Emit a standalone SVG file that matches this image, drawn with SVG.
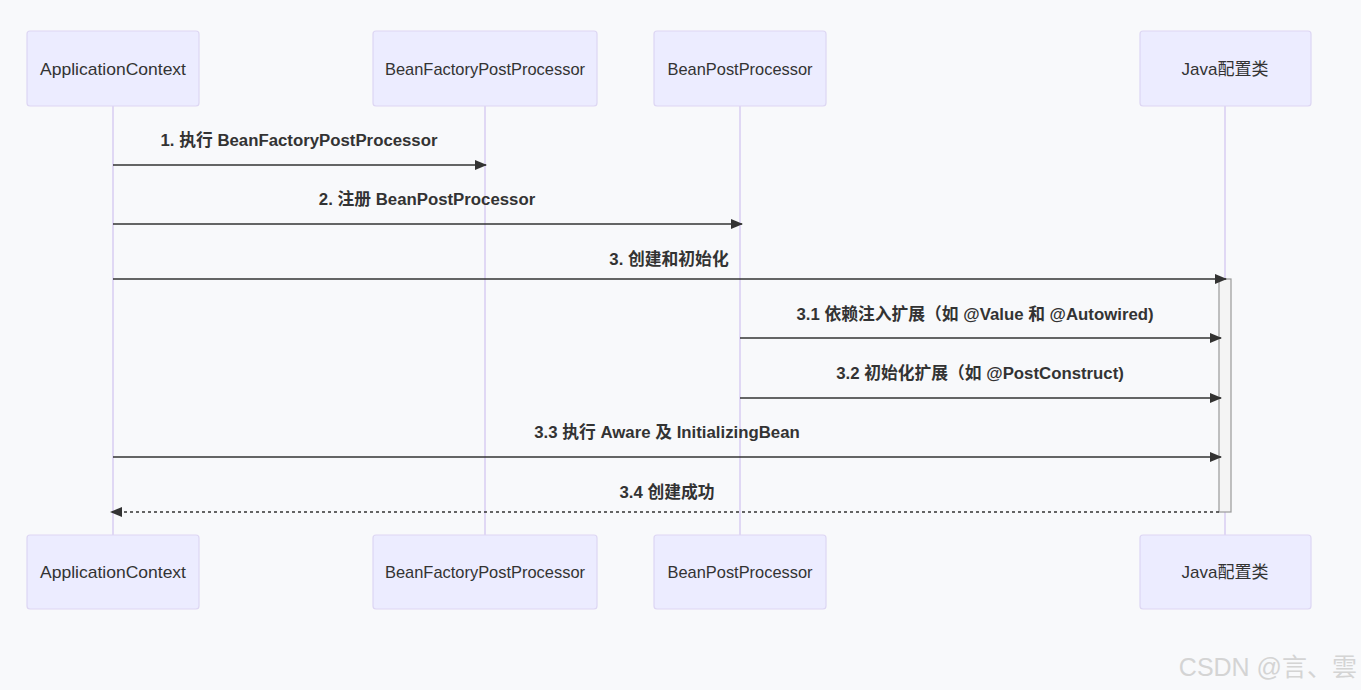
<svg xmlns="http://www.w3.org/2000/svg" width="1361" height="690" viewBox="0 0 1361 690">
<defs>
<style>
.actor{fill:#ececff;stroke:#ddd6f3;stroke-width:1.2}
.atext{font-family:"Liberation Sans","Noto Sans CJK SC",sans-serif;font-size:17px;fill:#333;text-anchor:middle;dominant-baseline:central}
.life{stroke:#d9ccf2;stroke-width:1.5}
.msg{stroke:#333;stroke-width:1.5;fill:none}
.dash{stroke-dasharray:3,3}
.mtext{font-family:"Liberation Sans","Noto Sans CJK SC",sans-serif;font-size:16.8px;font-weight:bold;fill:#333;text-anchor:middle}
.act{fill:#f4f4f4;stroke:#999;stroke-width:1.2}
</style>
<marker id="arrow" viewBox="0 0 12 12" refX="11" refY="6" markerWidth="12" markerHeight="12" markerUnits="userSpaceOnUse" orient="auto">
<path d="M0,1 L12,6 L0,11 z" fill="#333"/>
</marker>
</defs>
<rect width="1361" height="690" fill="#f8f9fb"/>
<g id="lifelines">
<line class="life" x1="113" y1="106" x2="113" y2="535"/>
<line class="life" x1="485" y1="106" x2="485" y2="535"/>
<line class="life" x1="740" y1="106" x2="740" y2="535"/>
<line class="life" x1="1225" y1="106" x2="1225" y2="535"/>
</g>
<g id="activation">
<rect class="act" x="1219" y="279" width="12" height="233"/>
</g>
<g id="node-appctx-top"><rect class="actor" x="27" y="31" width="172" height="75" rx="3"/><text class="atext" x="113" y="69" textLength="146" lengthAdjust="spacingAndGlyphs">ApplicationContext</text></g>
<g id="node-bfpp-top"><rect class="actor" x="373" y="31" width="224" height="75" rx="3"/><text class="atext" x="485" y="69" textLength="200" lengthAdjust="spacingAndGlyphs">BeanFactoryPostProcessor</text></g>
<g id="node-bpp-top"><rect class="actor" x="654" y="31" width="172" height="75" rx="3"/><text class="atext" x="740" y="69" textLength="145" lengthAdjust="spacingAndGlyphs">BeanPostProcessor</text></g>
<g id="node-java-top"><rect class="actor" x="1140" y="31" width="171" height="75" rx="3"/><text class="atext" x="1225" y="69">Java配置类</text></g>
<g id="node-appctx-bottom"><rect class="actor" x="27" y="535" width="172" height="74" rx="3"/><text class="atext" x="113" y="572" textLength="146" lengthAdjust="spacingAndGlyphs">ApplicationContext</text></g>
<g id="node-bfpp-bottom"><rect class="actor" x="373" y="535" width="224" height="74" rx="3"/><text class="atext" x="485" y="572" textLength="200" lengthAdjust="spacingAndGlyphs">BeanFactoryPostProcessor</text></g>
<g id="node-bpp-bottom"><rect class="actor" x="654" y="535" width="172" height="74" rx="3"/><text class="atext" x="740" y="572" textLength="145" lengthAdjust="spacingAndGlyphs">BeanPostProcessor</text></g>
<g id="node-java-bottom"><rect class="actor" x="1140" y="535" width="171" height="74" rx="3"/><text class="atext" x="1225" y="572">Java配置类</text></g>
<g id="connectors">
<line class="msg" x1="113" y1="165" x2="486" y2="165" marker-end="url(#arrow)"/>
<text class="mtext" x="299" y="146">1. 执行 BeanFactoryPostProcessor</text>
<line class="msg" x1="113" y1="224" x2="742" y2="224" marker-end="url(#arrow)"/>
<text class="mtext" x="427" y="205">2. 注册 BeanPostProcessor</text>
<line class="msg" x1="113" y1="279" x2="1226" y2="279" marker-end="url(#arrow)"/>
<text class="mtext" x="669" y="265">3. 创建和初始化</text>
<line class="msg" x1="740" y1="338" x2="1221" y2="338" marker-end="url(#arrow)"/>
<text class="mtext" x="975" y="320">3.1 依赖注入扩展（如 @Value 和 @Autowired)</text>
<line class="msg" x1="740" y1="398" x2="1221" y2="398" marker-end="url(#arrow)"/>
<text class="mtext" x="980" y="379">3.2 初始化扩展（如 @PostConstruct)</text>
<line class="msg" x1="113" y1="457" x2="1221" y2="457" marker-end="url(#arrow)"/>
<text class="mtext" x="667" y="438">3.3 执行 Aware 及 InitializingBean</text>
<line class="msg dash" x1="1219" y1="512" x2="111" y2="512" marker-end="url(#arrow)"/>
<text class="mtext" x="667" y="498">3.4 创建成功</text>
</g>
<text x="1357" y="676" text-anchor="end" font-family="Liberation Sans,'Noto Sans CJK SC',sans-serif" font-size="25" fill="#d4d4d4">CSDN @言、雲</text>
</svg>
